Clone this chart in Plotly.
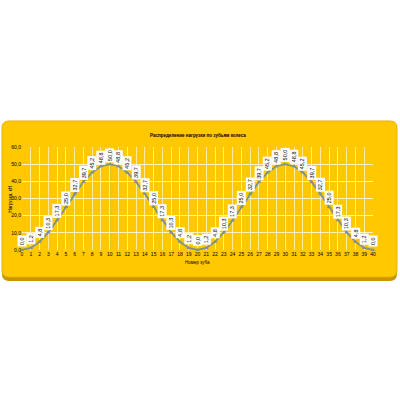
import plotly.graph_objects as go

x_vals = list(range(41))
y_vals = [0.0, 1.2, 4.8, 10.3, 17.3, 25.0, 32.7, 39.7, 45.2, 48.8, 50.0,
          48.8, 45.2, 39.7, 32.7, 25.0, 17.3, 10.3, 4.8, 1.2, 0.0,
          1.2, 4.8, 10.3, 17.3, 25.0, 32.7, 39.7, 45.2, 48.8, 50.0,
          48.8, 45.2, 39.7, 32.7, 25.0, 17.3, 10.3, 4.8, 1.2, 0.0]
y_ticks = [0, 10, 20, 30, 40, 50, 60]
y_tick_text = ["0,0", "10,0", "20,0", "30,0", "40,0", "50,0", "60,0"]
title_text = "Распределение нагрузки по зубьям колеса"
x_title = "Номер зуба"
y_title = "Нагрузка, кН"

L, R, T, B = 22, 27, 147, 150
W, H = 400, 400
pw, ph = W - L - R, H - T - B

def px(xp):
    return (xp - L) / pw

def py(yp):
    return (H - B - yp) / ph

def rounded(x0, y0, x1, y1, r):
    def P(a, b):
        return f"{px(a):.5f},{py(b):.5f}"
    return (f"M {P(x0 + r, y0)} L {P(x1 - r, y0)} Q {P(x1, y0)} {P(x1, y0 + r)} "
            f"L {P(x1, y1 - r)} Q {P(x1, y1)} {P(x1 - r, y1)} L {P(x0 + r, y1)} "
            f"Q {P(x0, y1)} {P(x0, y1 - r)} L {P(x0, y0 + r)} Q {P(x0, y0)} {P(x0 + r, y0)} Z")

fig = go.Figure()
fig.add_trace(go.Scatter(
    x=x_vals, y=y_vals, mode="lines+markers",
    line=dict(color="#7F938C", width=1.8),
    marker=dict(symbol="triangle-up", size=4, color="#7F938C"),
    hoverinfo="skip", showlegend=False, cliponaxis=False,
))

annotations = []
for xv, yv in zip(x_vals, y_vals):
    annotations.append(dict(
        x=xv, y=yv, xref="x", yref="y", text=f"{yv:.1f}".replace(".", ","),
        showarrow=False, textangle=-90, yshift=9,
        font=dict(family="Liberation Sans", size=5.5, color="black"),
        bgcolor="white", borderpad=1,
    ))
annotations.append(dict(x=0.5, y=py(130), xref="paper", yref="paper", text=f"<b>{title_text}</b>",
                        showarrow=False, font=dict(family="Liberation Sans", size=4.5, color="black")))
annotations.append(dict(x=0.5, y=py(267), xref="paper", yref="paper", text=x_title,
                        showarrow=False, font=dict(family="Liberation Sans", size=4.5, color="black")))
annotations.append(dict(x=px(5), y=py(200), xref="paper", yref="paper", text=y_title, textangle=-90,
                        showarrow=False, font=dict(family="Liberation Sans", size=4.5, color="black")))

shapes = [
    dict(type="path", xref="paper", yref="paper", path=rounded(2, 123, 397, 281, 7),
         fillcolor="#C89600", line=dict(width=0), layer="below"),
    dict(type="path", xref="paper", yref="paper", path=rounded(2, 121, 397, 277, 7),
         fillcolor="#FFC800", line=dict(color="#E8B200", width=1), layer="below"),
    dict(type="line", xref="x", yref="paper", x0=10, x1=10, y0=0, y1=1,
         line=dict(color="#A0A080", width=1), layer="below"),
    dict(type="line", xref="x", yref="paper", x0=30, x1=30, y0=0, y1=1,
         line=dict(color="#A0A080", width=1), layer="below"),
]

fig.update_layout(
    width=W, height=H,
    margin=dict(l=L, r=R, t=T, b=B),
    paper_bgcolor="white", plot_bgcolor="rgba(0,0,0,0)",
    shapes=shapes, annotations=annotations,
    xaxis=dict(range=[0, 40], tickmode="array", tickvals=x_vals, ticktext=[str(v) for v in x_vals],
               showgrid=True, gridcolor="#FFEE99", gridwidth=1, zeroline=False,
               tickfont=dict(family="Liberation Sans", size=5, color="black"),
               ticks="", showline=False, fixedrange=True),
    yaxis=dict(range=[0, 60], tickmode="array", tickvals=y_ticks, ticktext=y_tick_text,
               showgrid=True, gridcolor="#FFF4C0", gridwidth=1, zeroline=False,
               tickfont=dict(family="Liberation Sans", size=5, color="black"),
               ticks="", showline=False, fixedrange=True),
)

fig.write_html("out.html", config={"staticPlot": True},
               post_script="document.body.style.margin='0';document.body.style.overflow='hidden';")
